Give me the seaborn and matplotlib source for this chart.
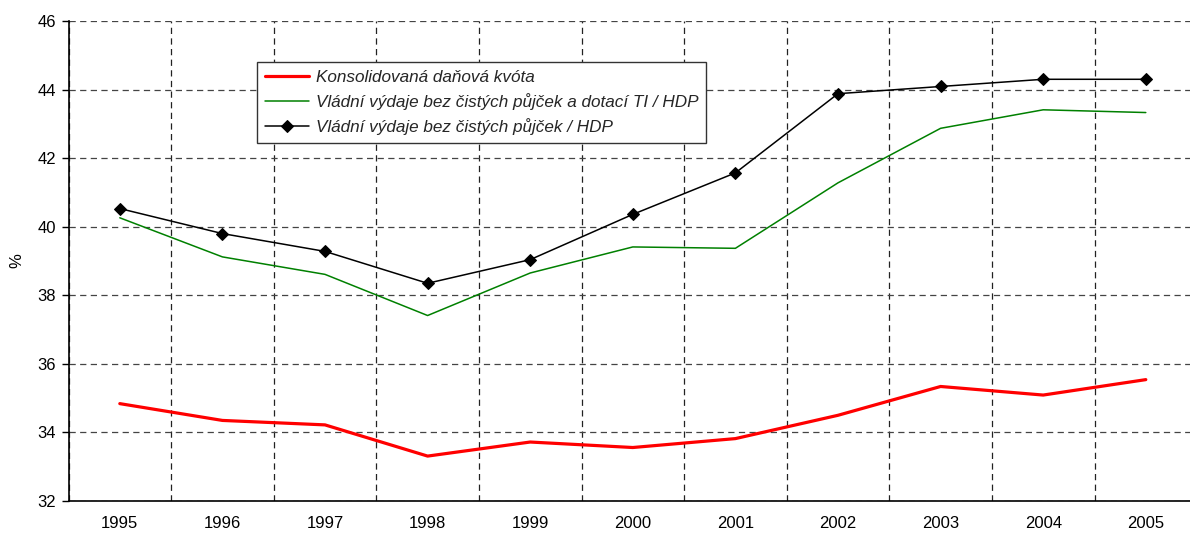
import matplotlib
matplotlib.use("Agg")
import matplotlib.pyplot as plt
import seaborn as sns
import pandas as pd
from matplotlib.ticker import MultipleLocator, FixedLocator

years = [1995, 1996, 1997, 1998, 1999, 2000, 2001, 2002, 2003, 2004, 2005]
tax_quota = [34.84, 34.35, 34.22, 33.31, 33.72, 33.56, 33.82, 34.50, 35.34, 35.09, 35.54]
spend_no_loans_no_ti = [40.26, 39.12, 38.61, 37.41, 38.65, 39.41, 39.37, 41.28, 42.87, 43.41, 43.33]
spend_no_loans = [40.53, 39.80, 39.28, 38.35, 39.04, 40.36, 41.57, 43.88, 44.09, 44.30, 44.30]

labels = [
    "Konsolidovaná daňová kvóta",
    "Vládní výdaje bez čistých půjček a dotací TI / HDP",
    "Vládní výdaje bez čistých půjček / HDP",
]

sns.set_theme(style="white")
plt.rcParams["font.family"] = ["Liberation Sans", "DejaVu Sans"]

df_tax = pd.DataFrame({"year": years, "value": tax_quota})
df_green = pd.DataFrame({"year": years, "value": spend_no_loans_no_ti})
df_black = pd.DataFrame({"year": years, "value": spend_no_loans})

fig = plt.figure(figsize=(11.9, 5.33), dpi=100)
ax = fig.add_axes([68.5 / 1190, 32 / 533, 1128.6 / 1190, 480 / 533])

sns.lineplot(data=df_tax, x="year", y="value", ax=ax, color="#ff0000", linewidth=2.3, label=labels[0])
sns.lineplot(data=df_green, x="year", y="value", ax=ax, color="#008000", linewidth=1.1, label=labels[1])
sns.lineplot(data=df_black, x="year", y="value", ax=ax, color="#000000", linewidth=1.1,
             marker="D", markersize=6.5, markeredgecolor="black", markerfacecolor="black", label=labels[2])

ax.set_xlim(1994.5, 2005.5)
ax.set_ylim(32, 46)
ax.yaxis.set_major_locator(MultipleLocator(2))
ax.xaxis.set_major_locator(FixedLocator(years))
ax.xaxis.set_minor_locator(FixedLocator([y + 0.5 for y in [1994] + years]))
ax.set_xticklabels([str(y) for y in years])

ax.tick_params(axis="x", which="major", length=0, labelsize=12, pad=11, colors="black")
ax.tick_params(axis="x", which="minor", length=7, direction="inout", width=1, color="black")
ax.tick_params(axis="y", which="major", length=5, direction="out", width=1, labelsize=12, colors="black", pad=4)
ax.tick_params(axis="y", left=True)

ax.grid(False)
ax.grid(axis="x", which="minor", color="#222222", linestyle=(0, (5, 3.5)), linewidth=0.9)
ax.grid(axis="y", which="major", color="#444444", linestyle=(0, (5, 3.5)), linewidth=0.9)

for side in ["top", "right"]:
    ax.spines[side].set_visible(False)
for side in ["left", "bottom"]:
    ax.spines[side].set_visible(True)
    ax.spines[side].set_color("black")
    ax.spines[side].set_linewidth(1.2)

ax.set_xlabel("")
ax.set_ylabel("%", fontsize=12, color="black", labelpad=9)

leg = ax.legend(loc="upper left", bbox_to_anchor=(257 / 1190, 1 - 62 / 533),
                bbox_transform=fig.transFigure, borderaxespad=0, frameon=True,
                fancybox=False, framealpha=1, edgecolor="#333333",
                prop={"style": "italic", "size": 12.3}, handlelength=2.6,
                handletextpad=0.4, labelspacing=0.48, borderpad=0.45)
leg.get_frame().set_linewidth(1.0)

fig.savefig("out.png", dpi=100)
